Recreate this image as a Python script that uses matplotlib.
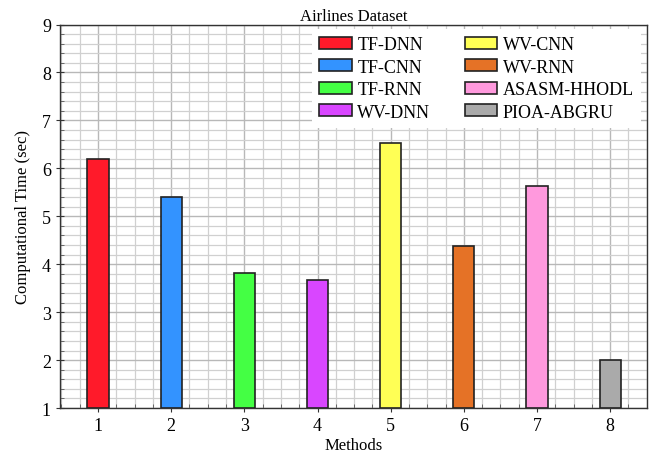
import matplotlib
matplotlib.use("Agg")
import matplotlib.pyplot as plt
from matplotlib.ticker import MultipleLocator

methods = [1, 2, 3, 4, 5, 6, 7, 8]
names = ["TF-DNN", "TF-CNN", "TF-RNN", "WV-DNN",
         "WV-CNN", "WV-RNN", "ASASM-HHODL", "PIOA-ABGRU"]
comp_time = [6.20, 5.40, 3.82, 3.68, 6.53, 4.39, 5.63, 2.00]
colors = ["#ff1a2a", "#3393ff", "#44ff44", "#d946ff",
          "#ffff55", "#e57226", "#ff99dd", "#aaaaaa"]

plt.rcParams["font.family"] = ["Liberation Serif", "DejaVu Serif"]

fig = plt.figure(figsize=(6.52, 4.56), dpi=100)
ax = fig.add_axes([0.092, 0.103, 0.9, 0.841])

base = 1
for m, v, c, n in zip(methods, comp_time, colors, names):
    ax.bar(m, v - base, bottom=base, width=0.29, color=c,
           edgecolor="#222222", linewidth=1.2, label=n, zorder=3)

ax.set_xlim(0.48, 8.5)
ax.set_ylim(1, 9)
ax.xaxis.set_major_locator(MultipleLocator(1))
ax.xaxis.set_minor_locator(MultipleLocator(0.25))
ax.yaxis.set_major_locator(MultipleLocator(1))
ax.yaxis.set_minor_locator(MultipleLocator(0.2))

ax.grid(which="major", color="#b8b8b8", linewidth=1.0, zorder=0)
ax.grid(which="minor", color="#d0d0d0", linewidth=0.9, zorder=0)
ax.set_axisbelow(True)

ax.tick_params(which="major", direction="inout", length=6, labelsize=13,
               color="#333333")
ax.tick_params(which="minor", direction="in", length=3, color="#555555")
for s in ax.spines.values():
    s.set_color("#333333")
    s.set_linewidth(1.0)

ax.set_xlabel("Methods", fontsize=12, labelpad=2)
ax.set_ylabel("Computational Time (sec)", fontsize=12, labelpad=8)
ax.set_title("Airlines Dataset", fontsize=12, pad=3)

leg = ax.legend(ncol=2, loc="upper right", bbox_to_anchor=(0.99, 0.988),
                borderaxespad=0.0,
                fontsize=13, frameon=True, fancybox=False,
                edgecolor="none", facecolor="white", framealpha=1.0,
                handlelength=1.8, handleheight=0.65, handletextpad=0.3,
                columnspacing=1.9, labelspacing=0.3, borderpad=0.4)

fig.savefig("out.png", dpi=100)
